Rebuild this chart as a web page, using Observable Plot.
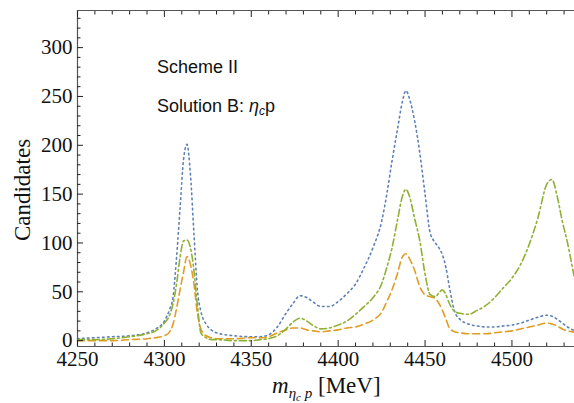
<!DOCTYPE html>
<html>
<head>
<meta charset="utf-8">
<script src="https://cdn.jsdelivr.net/npm/d3@7"></script>
<script src="https://cdn.jsdelivr.net/npm/@observablehq/plot@0.6"></script>
<style>
  html, body { margin: 0; padding: 0; background: #fff; }
  #chart { width: 574px; height: 403px; }
</style>
</head>
<body>
<div id="chart"></div>
<script>
// Invariant mass of eta_c p (MeV)
const masses = [4250, 4260, 4270, 4280, 4290, 4295, 4300, 4303, 4305, 4307,
  4309, 4311, 4313, 4315, 4317, 4319, 4321, 4324, 4327, 4330,
  4340, 4350, 4355, 4360, 4365, 4370, 4374, 4378, 4382, 4386,
  4390, 4395, 4400, 4405, 4410, 4415, 4420, 4425, 4428, 4431,
  4434, 4437, 4439, 4441, 4444, 4447, 4450, 4453, 4456, 4458,
  4460, 4462, 4464, 4467, 4470, 4475, 4480, 4485, 4490, 4495,
  4500, 4505, 4510, 4515, 4520, 4523, 4526, 4529, 4532, 4535, 4537];

// Blue dotted series
const blueValues = [2, 3, 4, 5, 8, 12, 20, 32, 45, 85,
  135, 185, 201, 170, 110, 52, 30, 17, 11, 8,
  5, 4, 4, 6, 14, 28, 38, 46, 44, 39,
  35, 35, 40, 48, 58, 75, 95, 122, 150, 184,
  215, 245, 256, 248, 225, 192, 150, 110, 100, 95,
  88, 75, 55, 30, 22, 17, 15, 14, 14, 15,
  16, 18, 21, 24, 26, 25, 22, 18, 14, 11, 10];

// Green dot-dashed series
const greenValues = [1, 1, 2, 4, 7, 10, 18, 26, 38, 58,
  85, 102, 103, 95, 72, 36, 8, 3, 1, 1,
  0, 0, 1, 2, 5, 12, 19, 23, 20, 15,
  12, 13, 16, 20, 27, 35, 44, 58, 75, 95,
  122, 148, 155, 148, 125, 102, 68, 47, 45, 49,
  52, 47, 38, 30, 28, 27, 31, 36, 44, 54,
  64, 78, 99, 126, 160, 165, 148, 122, 100, 73, 54];

// Orange dashed series
const orangeValues = [0, 0, 0, 1, 2, 3, 5, 9, 17, 33,
  52, 70, 86, 78, 58, 28, 12, 5, 3, 2,
  2, 3, 3, 4, 8, 11, 13, 13, 11, 10,
  9, 10, 11, 13, 14, 17, 21, 29, 40, 52,
  68, 86, 89, 84, 72, 55, 47, 45, 43, 38,
  31, 22, 13, 9, 8, 7, 7, 7, 8, 9,
  10, 12, 14, 16, 18, 17, 15, 12, 10, 9, 8];

const xMajor = [4250, 4300, 4350, 4400, 4450, 4500];
const xMinor = d3.range(4250, 4540, 10).filter(v => v % 50 !== 0);
const yMajor = [0, 50, 100, 150, 200, 250, 300];
const yMinor = d3.range(0, 340, 10).filter(v => v % 50 !== 0);

const xDomain = [4250, 4536];
const yDomain = [-6, 338];

const series = [
  {name: "blue", values: blueValues, color: "#5E81B5", dash: "1.6,3.4"},
  {name: "orange", values: orangeValues, color: "#E19C24", dash: "7,4"},
  {name: "green", values: greenValues, color: "#8FB032", dash: "7,3,2,3"}
];
const rows = series.flatMap(s => masses.map((m, i) => ({m, v: s.values[i], s: s.name})));

const axisColor = "#555";

const lineMarks = series.map(s => Plot.line(rows.filter(r => r.s === s.name), {
  x: "m", y: "v", curve: "monotone-x", stroke: s.color,
  strokeWidth: 1.6, strokeDasharray: s.dash, clip: true
}));

const plot = Plot.plot({
  width: 574,
  height: 403,
  marginLeft: 77,
  marginRight: 0,
  marginTop: 10,
  marginBottom: 57,
  style: {fontFamily: "'Liberation Serif', 'Times New Roman', serif", fontSize: "21px", background: "#fff", overflow: "visible"},
  x: {domain: xDomain},
  y: {domain: yDomain},
  marks: [
    ...lineMarks,
    // frame lines
    Plot.ruleX([xDomain[0]], {stroke: axisColor, strokeWidth: 1.2}),
    Plot.ruleY([yDomain[0]], {stroke: axisColor, strokeWidth: 1.2}),
    Plot.ruleY([yDomain[1]], {stroke: axisColor, strokeWidth: 1.2}),
    // bottom axis: inward ticks
    Plot.axisX({anchor: "bottom", ticks: xMinor, tickSize: -3.5, tickFormat: () => "", label: null, stroke: "#222"}),
    Plot.axisX({anchor: "bottom", ticks: xMajor, tickSize: -6, tickPadding: 11, tickFormat: d => String(d), label: null, stroke: "#222", fill: "#111", fontSize: 21}),
    // top axis: inward ticks
    Plot.axisX({anchor: "top", ticks: xMinor, tickSize: -3.5, tickFormat: () => "", label: null, stroke: "#222"}),
    Plot.axisX({anchor: "top", ticks: xMajor, tickSize: -6, tickFormat: () => "", label: null, stroke: "#222"}),
    // left axis: inward ticks
    Plot.axisY({anchor: "left", ticks: yMinor, tickSize: -3.5, tickFormat: () => "", label: null, stroke: "#222"}),
    Plot.axisY({anchor: "left", ticks: yMajor, tickSize: -6, tickPadding: 11, tickFormat: d => String(d), label: null, stroke: "#222", fill: "#111", fontSize: 21})
  ]
});

document.getElementById("chart").appendChild(plot);

const svg = d3.select(plot);

// y-axis title
svg.append("text")
  .attr("transform", "translate(30,190) rotate(-90)")
  .attr("text-anchor", "middle")
  .attr("font-family", "'Liberation Serif', 'Times New Roman', serif")
  .attr("font-size", 23)
  .attr("fill", "#111")
  .text("Candidates");

// x-axis title: m_{eta_c p} [MeV]
const xl = svg.append("text")
  .attr("x", 272).attr("y", 393)
  .attr("text-anchor", "start")
  .attr("font-family", "'Liberation Serif', 'Times New Roman', serif")
  .attr("font-size", 23)
  .attr("fill", "#111");
xl.append("tspan").attr("font-style", "italic").text("m");
xl.append("tspan").attr("font-style", "italic").attr("font-size", 15).attr("dy", 5).text("η");
xl.append("tspan").attr("font-style", "italic").attr("font-size", 11).attr("dy", 3).text("c");
xl.append("tspan").attr("font-style", "italic").attr("font-size", 15).attr("dy", -3).text(" p");
xl.append("tspan").attr("dy", -5).text(" [MeV]");

// annotations
const sans = "'Liberation Sans', Arial, sans-serif";
svg.append("text")
  .attr("x", 157).attr("y", 73)
  .attr("text-anchor", "start")
  .attr("font-family", sans).attr("font-size", 18).attr("fill", "#111")
  .text("Scheme II");
const sol = svg.append("text")
  .attr("x", 157).attr("y", 112)
  .attr("text-anchor", "start")
  .attr("font-family", sans).attr("font-size", 18).attr("fill", "#111");
sol.append("tspan").text("Solution B: ");
sol.append("tspan").attr("font-style", "italic").text("η");
sol.append("tspan").attr("font-style", "italic").attr("font-size", 12).attr("dy", 3).text("c");
sol.append("tspan").attr("dy", -3).text("p");
</script>
</body>
</html>
